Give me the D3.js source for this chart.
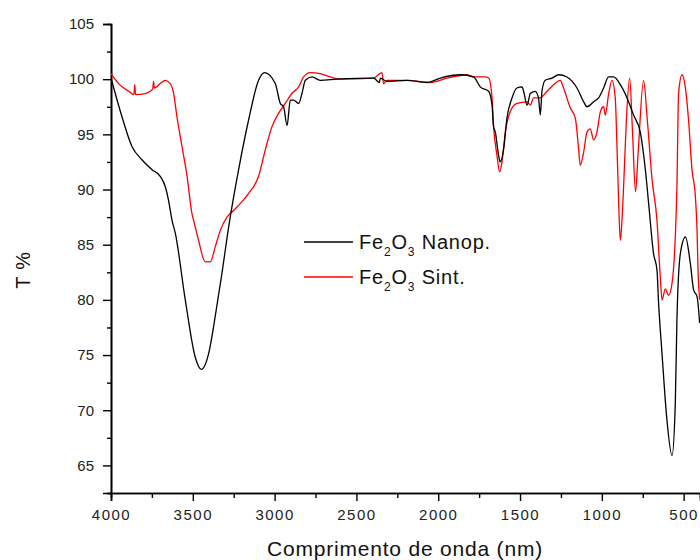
<!DOCTYPE html>
<html>
<head>
<meta charset="utf-8">
<script src="https://cdn.jsdelivr.net/npm/d3@7"></script>
<style>
  html, body { margin: 0; padding: 0; background: #fff; }
  svg { display: block; }
  text { font-family: "Liberation Sans", Arial, sans-serif; }
</style>
</head>
<body>
<svg id="chart" width="700" height="560"></svg>
<script>
// ---- Data (wavenumber, T %) ----
const xMajorTicks = [4000, 3500, 3000, 2500, 2000, 1500, 1000, 500];
const xMinorTicks = [3750, 3250, 2750, 2250, 1750, 1250, 750];
const yMajorTicks = [65, 70, 75, 80, 85, 90, 95, 100, 105];
const yMinorTicks = [62.5, 67.5, 72.5, 77.5, 82.5, 87.5, 92.5, 97.5, 102.5];
const seriesNames = ["Nanop.", "Sint."];

const nanopData = [
  [4000,100.1],[3974,98.7],[3933,96.6],[3872,93.9],[3811,92.7],[3749,91.8],[3699,91.2],
  [3668,90.25],[3648,89.0],[3627,87.2],[3607,86.05],[3546,80.0],[3485,74.8],[3448,73.7],
  [3403,75.15],[3363,78.5],[3322,82.4],[3281,86.6],[3220,91.8],[3159,96.3],[3098,99.9],
  [3061,100.6],[2996,99.6],[2965,97.8],[2945,97.5],[2924,95.8],[2904,98.1],[2884,98.1],
  [2853,97.8],[2833,98.7],[2812,99.9],[2771,100.2],[2721,99.9],[2619,100.0],[2395,100.1],
  [2360,99.7],[2354,100.1],[2313,99.8],[2191,99.9],[2069,99.7],[1987,100.1],[1865,100.4],
  [1784,100.2],[1743,99.3],[1692,98.9],[1671,97.65],[1662,95.7],[1651,95.2],[1631,93.1],
  [1621,92.5],[1600,93.7],[1580,96.45],[1549,98.3],[1519,99.2],[1488,99.3],[1478,98.9],
  [1457,97.65],[1437,98.7],[1407,98.9],[1387,98.3],[1376,96.75],[1366,98.9],[1346,99.9],
  [1305,100.1],[1264,100.4],[1213,100.2],[1152,99.2],[1111,97.95],[1091,97.5],[1050,97.95],
  [1020,98.3],[989,99.2],[959,100.2],[928,100.2],[887,99.5],[846,98.3],[806,96.75],
  [765,95.2],[734,91.8],[714,88.75],[684,84.2],[663,82.7],[653,79.7],[632,75.1],[602,69.1],
  [571,65.9],[551,70.6],[541,78.2],[520,84.2],[489,85.7],[459,83.3],[439,80.9],[418,80.3],
  [402,77.9]
];

const sintData = [
  [4000,100.5],[3954,99.6],[3892,98.9],[3860,98.6],[3855,99.5],[3850,98.6],[3790,98.7],
  [3745,99.1],[3740,99.8],[3735,99.2],[3699,99.6],[3668,99.9],[3638,99.6],[3617,98.7],
  [3597,96.6],[3566,93.9],[3535,91.2],[3505,87.8],[3495,87.2],[3465,85.4],[3424,83.45],
  [3393,83.45],[3363,84.8],[3332,86.3],[3291,87.5],[3251,88.1],[3199,88.9],[3159,89.65],
  [3098,91.2],[3057,93.6],[3016,95.7],[2976,96.9],[2935,97.8],[2894,98.7],[2853,99.3],
  [2823,100.2],[2782,100.6],[2721,100.5],[2660,100.2],[2599,100.0],[2395,100.1],[2344,100.6],
  [2334,99.6],[2313,99.9],[2191,99.9],[2048,99.7],[1946,100.1],[1824,100.4],[1784,100.2],
  [1712,100.2],[1692,100.1],[1671,98.3],[1662,95.8],[1641,93.1],[1625,91.6],[1610,92.5],
  [1590,95.2],[1560,97.05],[1519,97.8],[1457,97.95],[1437,97.65],[1417,98.3],[1380,98.3],
  [1335,98.9],[1295,99.5],[1254,99.9],[1234,99.2],[1193,97.4],[1162,96.45],[1142,93.7],
  [1132,92.2],[1111,93.4],[1091,95.2],[1071,95.5],[1050,94.5],[1030,95.2],[1009,97.05],
  [989,97.5],[979,96.75],[959,98.6],[938,99.9],[918,98.3],[907,93.7],[897,88.75],[887,85.4],
  [877,87.2],[867,90.25],[850,96.3],[830,100.1],[813,95.4],[794,89.8],[777,93.6],[745,99.9],
  [722,96.3],[693,90.9],[663,87.2],[643,82.1],[632,80.0],[612,81.0],[592,80.4],[571,81.5],
  [551,85.7],[541,90.25],[531,98.7],[510,100.4],[490,99.3],[470,96.3],[449,91.8],[428,89.3],
  [418,86.3],[412,82.7],[402,80.0]
];

// ---- Chart ----
const svg = d3.select("#chart");
const mLeft = 111, mRight = 700, mTop = 24, mBottom = 493;

const x = d3.scaleLinear().domain([4000, 400]).range([mLeft, mRight]);
const y = d3.scaleLinear().domain([62.5, 105]).range([mBottom, mTop]);

svg.append("defs").append("clipPath").attr("id", "plotclip")
  .append("rect").attr("x", mLeft).attr("y", mTop - 5).attr("width", mRight - mLeft + 5).attr("height", mBottom - mTop + 5);

// Axes
const xAxisMinor = d3.axisBottom(x).tickValues(xMinorTicks).tickSize(5).tickFormat("");
const xAxisMajor = d3.axisBottom(x).tickValues(xMajorTicks).tickSize(8).tickPadding(8).tickFormat(d3.format("d"));
const yAxisMinor = d3.axisLeft(y).tickValues(yMinorTicks).tickSize(4).tickFormat("");
const yAxisMajor = d3.axisLeft(y).tickValues(yMajorTicks).tickSize(8).tickPadding(9).tickFormat(d3.format("d"));

function styleAxis(g) {
  g.select(".domain").attr("stroke", "#000").attr("stroke-width", 1.6);
  g.selectAll(".tick line").attr("stroke", "#000").attr("stroke-width", 1.4);
  g.selectAll(".tick text").attr("fill", "#222").style("font-size", "15px")
    .style("font-family", '"Liberation Sans", Arial, sans-serif');
}

const gx1 = svg.append("g").attr("transform", `translate(0,${mBottom})`).call(xAxisMinor);
const gx2 = svg.append("g").attr("transform", `translate(0,${mBottom})`).call(xAxisMajor);
[gx1, gx2].forEach(styleAxis);
gx2.selectAll(".tick text").style("letter-spacing", "1.5px");
const gy1 = svg.append("g").attr("transform", `translate(${mLeft},0)`).call(yAxisMinor);
const gy2 = svg.append("g").attr("transform", `translate(${mLeft},0)`).call(yAxisMajor);
[gy1, gy2].forEach(styleAxis);

// Lines
const line = d3.line().x(d => x(d[0])).y(d => y(d[1])).curve(d3.curveMonotoneX);
const plot = svg.append("g").attr("clip-path", "url(#plotclip)");
plot.append("path").datum(sintData).attr("d", line)
  .attr("fill", "none").attr("stroke", "#ff0000").attr("stroke-width", 1.3).attr("stroke-linejoin", "round");
plot.append("path").datum(nanopData).attr("d", line)
  .attr("fill", "none").attr("stroke", "#000").attr("stroke-width", 1.3).attr("stroke-linejoin", "round");

// Axis titles
svg.append("text").attr("x", 405).attr("y", 556).attr("text-anchor", "middle")
  .style("font-size", "21px").style("letter-spacing", "0.8px").attr("fill", "#111")
  .text("Comprimento de onda (nm)");
svg.append("text").attr("transform", "translate(30,270) rotate(-90)").attr("text-anchor", "middle")
  .style("font-size", "20px").style("letter-spacing", "0.8px").attr("fill", "#111").text("T %");

// Legend
const legendColors = ["#000", "#ff0000"];
const legend = svg.append("g");
seriesNames.forEach((name, i) => {
  const ly = 242 + i * 35;
  legend.append("line").attr("x1", 304).attr("x2", 353).attr("y1", ly).attr("y2", ly)
    .attr("stroke", legendColors[i]).attr("stroke-width", 1.3);
  const t = legend.append("text").attr("x", 359).attr("y", ly + 7)
    .style("font-size", "20px").style("letter-spacing", "0.8px").attr("fill", "#111");
  t.append("tspan").text("Fe");
  t.append("tspan").attr("dy", 7).style("font-size", "12px").text("2");
  t.append("tspan").attr("dy", -7).text("O");
  t.append("tspan").attr("dy", 7).style("font-size", "12px").text("3");
  t.append("tspan").attr("dy", -7).text(" " + name);
});
</script>
</body>
</html>
